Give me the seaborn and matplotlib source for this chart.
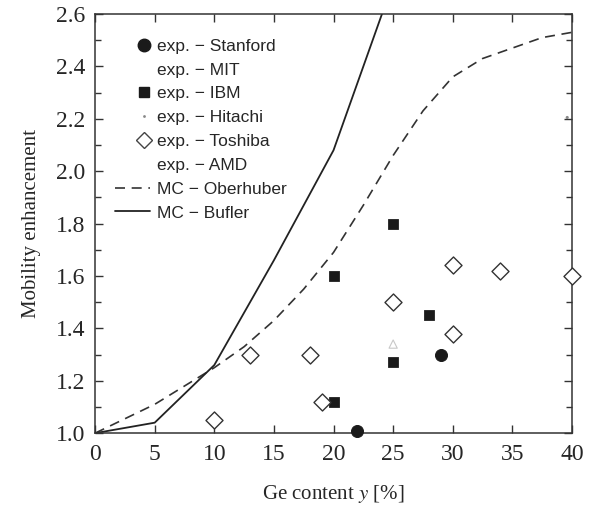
import matplotlib
matplotlib.use("Agg")
import matplotlib.pyplot as plt
import matplotlib.ticker as mticker
from matplotlib.lines import Line2D
from matplotlib.legend_handler import HandlerLine2D
import seaborn as sns

sns.set_style("ticks")
plt.rcParams['font.family'] = 'serif'
plt.rcParams['font.serif'] = ['Liberation Serif', 'DejaVu Serif']
plt.rcParams['mathtext.fontset'] = 'stix'

# Monte Carlo curves
ober_x = [0, 5, 10, 12.5, 15, 17.5, 20, 22.5, 25, 27.5, 30, 32.5, 35, 37.5, 40]
ober_y = [1.0, 1.11, 1.25, 1.33, 1.43, 1.55, 1.69, 1.87, 2.06, 2.23, 2.36, 2.43, 2.47, 2.51, 2.53]
bufler_x = [0, 5, 10, 15, 20, 25]
bufler_y = [1.0, 1.04, 1.26, 1.66, 2.08, 2.72]

# experiments
stanford_x = [22, 29]
stanford_y = [1.01, 1.30]
mit_x = [25]
mit_y = [1.34]
ibm_x = [20, 25, 20, 25, 28]
ibm_y = [1.60, 1.80, 1.12, 1.27, 1.45]
hitachi_x = [39.6]
hitachi_y = [2.205]
toshiba_x = [10, 13, 18, 19, 25, 30, 30, 34, 40]
toshiba_y = [1.05, 1.30, 1.30, 1.12, 1.50, 1.64, 1.38, 1.62, 1.60]


class MarkerRight(HandlerLine2D):
    # gnuplot-style key: symbol sits at the right end of the sample
    def create_artists(self, legend, orig_handle, xdescent, ydescent, width, height,
                       fontsize, trans):
        artists = super().create_artists(legend, orig_handle, xdescent, ydescent,
                                         width, height, fontsize, trans)
        ln = artists[0]
        y0 = ln.get_ydata()[0]
        ln.set_markevery(None)
        ln.set_data([-xdescent + width - 0.3 * fontsize], [y0])
        return artists


fig = plt.figure(figsize=(5.98, 5.09), dpi=100)
ax = fig.add_axes([0.159, 0.149, 0.7975, 0.8235])

sns.lineplot(x=ober_x, y=ober_y, ax=ax, color='#333333', lw=1.2, sort=False,
             linestyle=(0, (6, 4)))
sns.lineplot(x=bufler_x, y=bufler_y, ax=ax, color='#222222', lw=1.3, sort=False)

sns.scatterplot(x=stanford_x, y=stanford_y, ax=ax, marker='o', s=75, color='#1a1a1a',
                edgecolor='#1a1a1a', zorder=5, clip_on=False)
sns.scatterplot(x=mit_x, y=mit_y, ax=ax, marker='^', s=35, facecolor='none',
                edgecolor='#c8c8c8', linewidth=0.8, zorder=5)
sns.scatterplot(x=ibm_x, y=ibm_y, ax=ax, marker='s', s=50, color='#1a1a1a',
                edgecolor='#1a1a1a', zorder=5)
sns.scatterplot(x=hitachi_x, y=hitachi_y, ax=ax, marker='o', s=5, color='#888888',
                edgecolor='none', zorder=5)
sns.scatterplot(x=toshiba_x, y=toshiba_y, ax=ax, marker='D', s=75, facecolor='white',
                edgecolor='#333333', linewidth=1.0, zorder=5, clip_on=False)

ax.set_xlim(0, 40)
ax.set_ylim(1.0, 2.6)
ax.xaxis.set_major_locator(mticker.MultipleLocator(5))
ax.yaxis.set_major_locator(mticker.MultipleLocator(0.2))
ax.yaxis.set_minor_locator(mticker.MultipleLocator(0.1))
ax.yaxis.set_major_formatter(mticker.FormatStrFormatter('%.1f'))
ax.tick_params(which='both', direction='in', top=True, right=True, labelsize=17,
               color='#333333')
ax.tick_params(which='major', length=6, width=1)
ax.tick_params(which='minor', length=4, width=1)
ax.tick_params(axis='x', pad=8)
ax.tick_params(axis='y', pad=7)
for sp in ax.spines.values():
    sp.set_linewidth(1.1)
    sp.set_color('#333333')

ax.set_xlabel(r'Ge content $y$ [%]', fontsize=15, labelpad=13)
ax.set_ylabel('Mobility enhancement', fontsize=15, labelpad=11)

mark_handles = [
    Line2D([], [], ls='none', marker='o', ms=9, color='#1a1a1a'),
    Line2D([], [], ls='none', marker='^', ms=6, mfc='none', mec='white'),
    Line2D([], [], ls='none', marker='s', ms=7, color='#1a1a1a'),
    Line2D([], [], ls='none', marker='o', ms=2, color='#888888', mec='none'),
    Line2D([], [], ls='none', marker='D', ms=8, mfc='white', mec='#444444'),
    Line2D([], [], ls='none', marker='None'),
]
line_handles = [
    Line2D([], [], color='#333333', lw=1.2, ls=(0, (6, 4))),
    Line2D([], [], color='#222222', lw=1.3),
]
labels = ['exp. \u2212 Stanford', 'exp. \u2212 MIT', 'exp. \u2212 IBM', 'exp. \u2212 Hitachi',
          'exp. \u2212 Toshiba', 'exp. \u2212 AMD', 'MC \u2212 Oberhuber', 'MC \u2212 Bufler']
ax.legend(mark_handles + line_handles, labels, loc='upper left',
          bbox_to_anchor=(0.027, 0.958), frameon=False,
          prop={'family': 'Liberation Sans', 'size': 12.5}, labelspacing=0.5,
          handlelength=2.0, handletextpad=0.4, borderaxespad=0,
          handler_map={h: MarkerRight() for h in mark_handles})

fig.savefig('out.png', dpi=100)
